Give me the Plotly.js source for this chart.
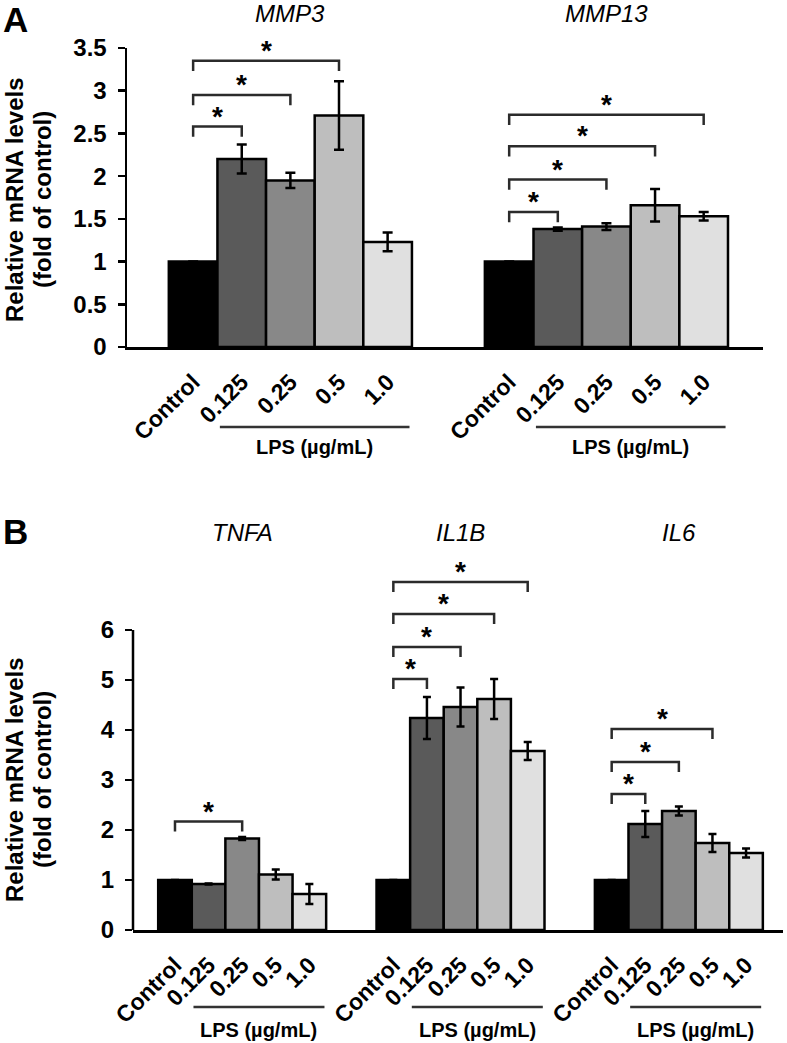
<!DOCTYPE html>
<html>
<head>
<meta charset="utf-8">
<script src="https://cdn.plot.ly/plotly-3.0.1.min.js"></script>
<style>
  body { margin: 0; background: #fff; }
  #chart { width: 787px; height: 1043px; }
</style>
</head>
<body>
<div id="chart"></div>
<script>
var doses = ['Control', '0.125', '0.25', '0.5', '1.0'];
var barColors = ['#000000', '#5a5a5a', '#888888', '#bebebe', '#e0e0e0'];

// panel A
var genesA = ['MMP3', 'MMP13'];
var mmp3 = [1.0, 2.20, 1.95, 2.71, 1.23];
var mmp3Err = [0, 0.17, 0.09, 0.40, 0.11];
var mmp13 = [1.0, 1.38, 1.41, 1.66, 1.53];
var mmp13Err = [0, 0.02, 0.04, 0.19, 0.05];
// significance brackets: [dose index vs control, bracket height]
var mmp3Sig = [[1, 2.58], [2, 2.95], [3, 3.35]];
var mmp13Sig = [[1, 1.58], [2, 1.96], [3, 2.35], [4, 2.72]];
var yTicksA = [0, 0.5, 1, 1.5, 2, 2.5, 3, 3.5];

// panel B
var genesB = ['TNFA', 'IL1B', 'IL6'];
var tnfa = [1.0, 0.92, 1.83, 1.11, 0.72];
var tnfaErr = [0, 0.01, 0.03, 0.10, 0.20];
var il1b = [1.0, 4.24, 4.46, 4.62, 3.58];
var il1bErr = [0, 0.42, 0.39, 0.40, 0.18];
var il6 = [1.0, 2.12, 2.38, 1.74, 1.54];
var il6Err = [0, 0.26, 0.09, 0.18, 0.09];
var tnfaSig = [[2, 2.17]];
var il1bSig = [[1, 5.02], [2, 5.66], [3, 6.32], [4, 6.96]];
var il6Sig = [[1, 2.72], [2, 3.36], [3, 4.02]];
var yTicksB = [0, 1, 2, 3, 4, 5, 6];

var FONT = 'Liberation Sans, Arial, sans-serif';
var W = 787, H = 1043;
var groupStep = 6.5;

var traces = [];
var shapes = [];
var annotations = [];
var tickPos = {x: [], x2: []};
var tickText = {x: [], x2: []};

function py(px) { return 1 - px / H; }

function addGroup(g, gene, vals, errs, sig, xa, ya, drop, titleY, lpsLineY, lpsTextY, capW) {
  var xs = doses.map(function (d, i) { return g * groupStep + i; });
  tickPos[xa] = tickPos[xa].concat(xs);
  tickText[xa] = tickText[xa].concat(doses);

  traces.push({
    type: 'bar', x: xs, y: vals, width: 1, xaxis: xa, yaxis: ya,
    marker: {color: barColors, line: {color: '#000', width: 2.5}},
    error_y: {type: 'data', array: errs, visible: true, color: '#000', thickness: 2.5, width: capW},
    showlegend: false, hoverinfo: 'y'
  });

  sig.forEach(function (s) {
    var x0 = xs[0], x1 = xs[s[0]], h = s[1];
    traces.push({
      type: 'scatter', mode: 'lines', xaxis: xa, yaxis: ya,
      x: [x0, x0, x1, x1], y: [h - drop, h, h, h - drop],
      line: {color: '#2b2b2b', width: 2.5}, showlegend: false, hoverinfo: 'skip'
    });
    annotations.push({
      xref: xa, yref: ya, x: (x0 + x1) / 2, y: h, text: '*', showarrow: false,
      xanchor: 'center', yanchor: 'bottom', yshift: -7,
      font: {family: FONT, size: 28, weight: 700, color: '#000'}
    });
  });

  // gene name, centred over the group
  annotations.push({
    xref: xa, yref: 'paper', x: xs[2], y: py(titleY), text: gene, showarrow: false,
    xanchor: 'center', yanchor: 'middle',
    font: {family: FONT, size: 24, style: 'italic', color: '#000'}
  });

  // LPS dose bar under the axis labels
  shapes.push({
    type: 'line', xref: xa, yref: 'paper', x0: xs[1] - 0.45, x1: xs[4] + 0.45,
    y0: py(lpsLineY), y1: py(lpsLineY), line: {color: '#333', width: 2.5}
  });
  annotations.push({
    xref: xa, yref: 'paper', x: (xs[1] + xs[4]) / 2, y: py(lpsTextY), text: 'LPS (µg/mL)',
    showarrow: false, xanchor: 'center', yanchor: 'middle',
    font: {family: FONT, size: 20, weight: 700, color: '#000'}
  });
}

addGroup(0, genesA[0], mmp3, mmp3Err, mmp3Sig, 'x', 'y', 0.12, 14, 427, 447, 5);
addGroup(1, genesA[1], mmp13, mmp13Err, mmp13Sig, 'x', 'y', 0.12, 14, 427, 447, 5);
addGroup(0, genesB[0], tnfa, tnfaErr, tnfaSig, 'x2', 'y2', 0.2, 532, 1007, 1030, 4);
addGroup(1, genesB[1], il1b, il1bErr, il1bSig, 'x2', 'y2', 0.2, 532, 1007, 1030, 4);
addGroup(2, genesB[2], il6, il6Err, il6Sig, 'x2', 'y2', 0.2, 532, 1007, 1030, 4);

// panel B y axis line stops at 6, brackets go above it
var xDomB = [133 / W, 783 / W];
shapes.push({
  type: 'line', xref: 'paper', yref: 'y2', x0: xDomB[0], x1: xDomB[0], y0: 0, y1: 6,
  line: {color: '#000', width: 2.5}
});

// panel letters and y titles
[['A', 19], ['B', 531]].forEach(function (p) {
  annotations.push({
    xref: 'paper', yref: 'paper', x: 15 / W, y: py(p[1]), text: p[0], showarrow: false,
    xanchor: 'center', yanchor: 'middle', font: {family: FONT, size: 35, weight: 700, color: '#000'}
  });
});
[[200], [780]].forEach(function (c) {
  annotations.push({
    xref: 'paper', yref: 'paper', x: 14 / W, y: py(c[0]), text: 'Relative mRNA levels',
    textangle: -90, showarrow: false, xanchor: 'center', yanchor: 'middle',
    font: {family: FONT, size: 24, weight: 700, color: '#000'}
  });
  annotations.push({
    xref: 'paper', yref: 'paper', x: 42 / W, y: py(c[0]), text: '(fold of control)',
    textangle: -90, showarrow: false, xanchor: 'center', yanchor: 'middle',
    font: {family: FONT, size: 24, weight: 700, color: '#000'}
  });
});

function xAxis(name, domain, range, anchor) {
  return {
    domain: domain, range: range, anchor: anchor,
    tickmode: 'array', tickvals: tickPos[name], ticktext: tickText[name],
    tickangle: -45, ticks: '', ticklabelstandoff: 10,
    tickfont: {family: FONT, size: 23, weight: 700, color: '#000'},
    showline: true, linecolor: '#000', linewidth: 2.5,
    showgrid: false, zeroline: false, fixedrange: true
  };
}

var layout = {
  width: W, height: H,
  margin: {l: 0, r: 0, t: 0, b: 0},
  paper_bgcolor: '#fff', plot_bgcolor: 'rgba(0,0,0,0)',
  font: {family: FONT, color: '#000'},
  bargap: 0,
  xaxis: xAxis('x', [127 / W, 763 / W], [-1.36, 11.72], 'y'),
  yaxis: {
    domain: [py(347), py(48)], range: [0, 3.5], anchor: 'x',
    tickmode: 'array', tickvals: yTicksA,
    ticks: 'outside', ticklen: 7, tickwidth: 2.5, tickcolor: '#000', ticklabelstandoff: 6,
    tickfont: {family: FONT, size: 24, weight: 700, color: '#000'},
    showline: true, linecolor: '#000', linewidth: 2.5,
    showgrid: false, zeroline: false, fixedrange: true
  },
  xaxis2: xAxis('x2', xDomB, [-1.25, 18.1], 'y2'),
  yaxis2: {
    domain: [py(930), py(560)], range: [0, 7.4], anchor: 'x2',
    tickmode: 'array', tickvals: yTicksB,
    ticks: 'outside', ticklen: 7, tickwidth: 2.5, tickcolor: '#000', ticklabelstandoff: 6,
    tickfont: {family: FONT, size: 24, weight: 700, color: '#000'},
    showline: false, showgrid: false, zeroline: false, fixedrange: true
  },
  shapes: shapes,
  annotations: annotations,
  showlegend: false
};

Plotly.newPlot('chart', traces, layout, {displayModeBar: false, staticPlot: true});
</script>
</body>
</html>
